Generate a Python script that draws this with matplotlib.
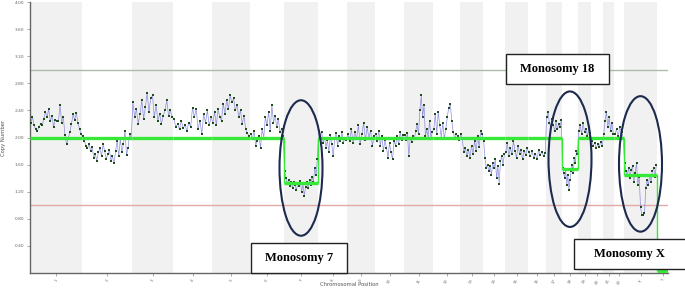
import numpy as np
import matplotlib.pyplot as plt
from matplotlib.patches import Ellipse, Rectangle

# chromosome names and relative widths
chrom_names = [str(i) for i in range(1, 23)] + ['X', 'Y']
chrom_sizes = [52, 50, 41, 39, 38, 34, 34, 29, 28, 29, 29, 27, 23, 22, 23, 18, 16, 16, 13, 12, 11, 10, 33, 11]

# copy number probe values per chromosome
cn_1 = [2.22, 2.30, 2.18, 2.12, 2.10, 2.15, 2.20, 2.18, 2.28, 2.38, 2.30, 2.42, 2.24, 2.32, 2.16, 2.26,
        2.25, 2.24, 2.48, 2.22, 2.30, 2.04, 1.90, 1.98, 2.08, 2.20, 2.34, 2.26, 2.36, 2.22, 2.12, 2.05]
cn_2 = [2.02, 1.95, 1.88, 1.84, 1.90, 1.80, 1.86, 1.70, 1.75, 1.66, 1.78, 1.84, 1.72, 1.90, 1.80, 1.68,
        1.75, 1.82, 1.66, 1.72, 1.62, 1.80, 1.95, 1.72, 1.98, 1.78, 1.90, 2.10, 1.74, 1.85, 2.05, 2.00]
cn_3 = [2.52, 2.30, 2.42, 2.20, 2.35, 2.55, 2.28, 2.45, 2.66, 2.38, 2.58, 2.62, 2.30, 2.48, 2.25, 2.35,
        2.20, 2.32, 2.40, 2.55, 2.32, 2.40, 2.30]
cn_4 = [2.28, 2.15, 2.20, 2.12, 2.25, 2.14, 2.18, 2.10, 2.22, 2.16, 2.44, 2.30, 2.42, 2.12, 2.25, 2.05,
        2.35, 2.22, 2.40, 2.18, 2.30]
cn_5 = [2.22, 2.38, 2.18, 2.42, 2.30, 2.25, 2.50, 2.35, 2.56, 2.42, 2.62, 2.52, 2.58, 2.40, 2.48, 2.30,
        2.40, 2.20, 2.32, 2.12, 2.06, 2.02]
cn_6 = [2.05, 1.98, 2.10, 1.88, 1.95, 2.02, 1.85, 2.12, 2.00, 2.30, 2.18, 2.38, 2.10, 2.48, 2.22, 2.32,
        2.15, 2.28, 2.08, 2.12, 2.02]
cn_7 = [1.50, 1.40, 1.32, 1.38, 1.28, 1.34, 1.25, 1.35, 1.30, 1.22, 1.33, 1.28, 1.36, 1.20, 1.31, 1.14,
        1.27, 1.35, 1.25, 1.38, 1.30, 1.42, 1.35, 1.55, 1.45, 1.68]
cn_8 = [2.10, 2.02, 2.08, 1.92, 2.00, 1.85, 1.96, 1.78, 2.04, 1.90, 1.72, 1.98, 2.06, 1.88, 2.02, 1.95,
        2.08, 1.92, 2.00, 1.96]
cn_9 = [2.05, 1.95, 2.12, 1.92, 2.08, 1.98, 2.18, 1.90, 2.05, 2.22, 1.96, 2.15, 2.00, 2.10, 1.88, 2.02]
cn_10 = [2.05, 1.95, 2.10, 1.88, 2.02, 1.80, 1.96, 1.85, 1.70, 1.92, 1.78, 1.68, 1.95, 1.88, 2.02, 1.90,
         2.08, 1.96, 2.04]
cn_11 = [2.04, 1.96, 2.06, 1.72, 2.00, 1.94, 2.02, 1.98, 2.10, 2.20, 2.05, 2.40, 2.62, 2.30, 2.48, 2.02,
         2.12, 1.98, 2.25, 2.00, 2.08]
cn_12 = [2.12, 2.35, 2.05, 2.38, 2.18, 2.00, 2.22, 1.98, 2.12, 2.30, 2.44, 2.50, 2.25, 2.08, 1.98, 2.05,
         2.02, 1.96]
cn_13 = [2.05, 1.98, 1.78, 1.85, 1.72, 1.82, 1.70, 1.88, 1.76, 1.95, 1.80, 2.02, 1.86, 2.10, 2.05]
cn_14 = [1.95, 1.70, 1.55, 1.60, 1.50, 1.58, 1.45, 1.62, 1.55, 1.68, 1.40, 1.58, 1.32, 1.65, 1.72, 1.60, 1.75]
cn_15 = [1.78, 1.92, 1.72, 1.85, 1.75, 1.95, 1.80, 1.70, 1.88, 1.76, 1.82, 1.68, 1.80, 1.74, 1.84]
cn_16 = [1.78, 1.72, 1.80, 1.70, 1.76, 1.68, 1.82, 1.74, 1.79, 1.72, 1.77]
cn_17 = [2.30, 2.38, 2.22, 2.15, 2.28, 2.18, 2.10, 2.24, 2.12, 2.20, 2.16, 2.26]
cn_18 = [1.55, 1.48, 1.40, 1.52, 1.30, 1.45, 1.22, 1.38, 1.50, 1.60, 1.48, 1.70, 1.62, 1.80, 1.75]
cn_19 = [2.10, 2.18, 2.05, 2.22, 2.08, 2.12, 2.02, 2.15, 2.06]
cn_20 = [1.95, 1.88, 1.92, 1.84, 1.90, 1.86, 1.94, 1.88]
cn_21 = [2.05, 2.25, 2.38, 2.15, 2.30, 2.10, 2.22, 2.05]
cn_22 = [2.05, 2.12, 2.02, 2.15, 2.08, 2.00]
cn_X = [1.62, 1.50, 1.45, 1.55, 1.40, 1.52, 1.58, 1.35, 1.48, 1.62, 1.30, 1.42, 0.98, 0.86, 0.85, 0.88,
        1.25, 1.38, 1.30, 1.45, 1.35, 1.50, 1.55, 1.42, 1.60]
cn_Y = []

probe_values = [cn_1, cn_2, cn_3, cn_4, cn_5, cn_6, cn_7, cn_8, cn_9, cn_10, cn_11, cn_12, cn_13, cn_14,
                cn_15, cn_16, cn_17, cn_18, cn_19, cn_20, cn_21, cn_22, cn_X, cn_Y]

# segmented copy number call per chromosome
seg_levels = [2.0] * 6 + [1.33] + [2.0] * 10 + [1.53] + [2.0] * 4 + [1.44] + [0.03]

# annotated chromosomes and vertical centre of each circle
circled = ['7', '18', 'X']
circle_mid = [1.55, 1.68, 1.61]

starts = np.concatenate([[0], np.cumsum(chrom_sizes)[:-1]])
ends = np.cumsum(chrom_sizes)
centers = (starts + ends) / 2.0

xs, ys = [], []
for s, size, vals in zip(starts, chrom_sizes, probe_values):
    n = len(vals)
    for i, v in enumerate(vals):
        xs.append(s + (i + 0.5) * size / n)
        ys.append(v)

fig = plt.figure(figsize=(6.85, 2.89), dpi=100)
ax = fig.add_axes([30 / 685, 16 / 289, 638 / 685, 271 / 289])

for i, (s, e) in enumerate(zip(starts, ends)):
    if i % 2 == 0:
        ax.axvspan(s, e, color='#f1f1f1', lw=0, zorder=0)

ax.axhline(3.0, color='#aebcae', lw=1.0, zorder=1)
ax.axhline(1.0, color='#e2a9a9', lw=1.0, zorder=1)

ax.plot(xs, ys, color='#7373d6', lw=0.5, alpha=0.8, zorder=2)
ax.plot(xs, ys, ls='none', marker='s', ms=1.7, color='#1d4d1d', mew=0, zorder=3)

# segment line
ax.hlines(seg_levels, starts, ends, color='#38e838', lw=2.4, zorder=4)
for i in range(1, len(seg_levels)):
    if seg_levels[i] != seg_levels[i - 1]:
        ax.vlines(starts[i], min(seg_levels[i], seg_levels[i - 1]), max(seg_levels[i], seg_levels[i - 1]),
                  color='#38e838', lw=1.0, zorder=4)

for name, mid in zip(circled, circle_mid):
    k = chrom_names.index(name)
    ax.add_patch(Ellipse((centers[k], mid), 43, 2.0, fill=False, ec='#1c2a4e', lw=1.5, zorder=6))

ax.set_xlim(0, ends[-1])
ax.set_ylim(0, 4.0)
ax.set_yticks(np.arange(0.4, 4.01, 0.4))
ax.set_yticklabels(['%.2f' % v for v in np.arange(0.4, 4.01, 0.4)], fontsize=3.2, color='#666666')
ax.set_xticks(centers)
ax.set_xticklabels(chrom_names, fontsize=3, rotation=60, color='#777777')
ax.tick_params(length=2, width=0.5, color='#888888', pad=2)
ax.set_ylabel('Copy Number', fontsize=3.8, color='#555555', labelpad=6)
ax.set_xlabel('Chromosomal Position', fontsize=3.8, color='#555555')
ax.xaxis.set_label_coords(0.5, -0.032)
for side in ['top', 'right']:
    ax.spines[side].set_visible(False)
for side in ['left', 'bottom']:
    ax.spines[side].set_color('#666666')
    ax.spines[side].set_linewidth(1.0)

# label boxes (figure pixel boxes: left, top, right, bottom)
boxes = [('Monosomy 7', 251, 243, 347, 273),
         ('Monosomy 18', 506, 54, 609, 84),
         ('Monosomy X', 574, 239, 690, 269)]
for label, x0, y0, x1, y1 in boxes:
    fig.patches.append(Rectangle((x0 / 685, 1 - y1 / 289), (x1 - x0) / 685, (y1 - y0) / 289,
                                 transform=fig.transFigure, fc='white', ec='#222222', lw=1.0, zorder=7))
    tx = (x0 + x1) / 2 if x1 <= 685 else 629
    fig.text(tx / 685, 1 - (y0 + y1) / 2 / 289, label, ha='center', va='center', fontsize=9,
             fontweight='bold', family='Liberation Serif', zorder=8)

fig.savefig('out.png', dpi=100)
